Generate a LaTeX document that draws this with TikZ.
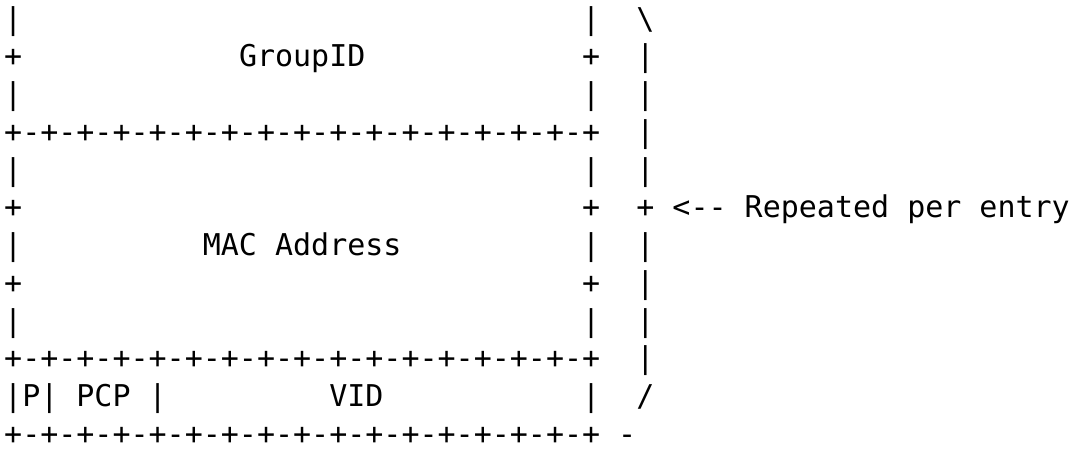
\documentclass[tikz,border=0pt]{standalone}
\usepackage{fontspec}
\setmonofont{DejaVu Sans Mono}
% horizontal gap of n monospace character cells
\newcommand\blank[1]{\hspace*{#1\fontcharwd\font`\x}}
\newcommand\ruler{+-+-+-+-+-+-+-+-+-+-+-+-+-+-+-+-+}
\tikzset{
  row/.style={anchor=base west, inner sep=0pt,
    font=\ttfamily\fontsize{30bp}{36bp}\selectfont}
}
\begin{document}
\begin{tikzpicture}[x=1bp,y=-1bp]
\useasboundingbox (0,0) rectangle (1072,449);
\def\pitch{37.75}
\def\firstrow{29.25}
\node[row] (r1)  at (4,\firstrow+0*\pitch)  {|\blank{31}|\blank{2}\textbackslash};
\node[row] (r2)  at (4,\firstrow+1*\pitch)  {+\blank{12}GroupID\blank{12}+\blank{2}|};
\node[row] (r3)  at (4,\firstrow+2*\pitch)  {|\blank{31}|\blank{2}|};
\node[row] (r4)  at (4,\firstrow+3*\pitch)  {\ruler\blank{2}|};
\node[row] (r5)  at (4,\firstrow+4*\pitch)  {|\blank{31}|\blank{2}|};
\node[row] (r6)  at (4,\firstrow+5*\pitch)  {+\blank{31}+\blank{2}+\blank{1}<-\kern0pt-\blank{1}Repeated\blank{1}per\blank{1}entry};
\node[row] (r7)  at (4,\firstrow+6*\pitch)  {|\blank{10}MAC\blank{1}Address\blank{10}|\blank{2}|};
\node[row] (r8)  at (4,\firstrow+7*\pitch)  {+\blank{31}+\blank{2}|};
\node[row] (r9)  at (4,\firstrow+8*\pitch)  {|\blank{31}|\blank{2}|};
\node[row] (r10) at (4,\firstrow+9*\pitch)  {\ruler\blank{2}|};
\node[row] (r11) at (4,\firstrow+10*\pitch) {|P|\blank{1}PCP\blank{1}|\blank{9}VID\blank{11}|\blank{2}/};
\node[row] (r12) at (4,\firstrow+11*\pitch) {\ruler\blank{1}-};
\end{tikzpicture}
\end{document}
